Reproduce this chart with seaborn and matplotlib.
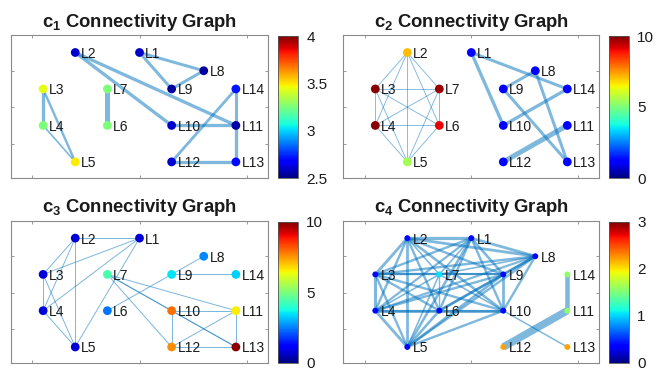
import numpy as np
import pandas as pd
import matplotlib
matplotlib.use("Agg")
import matplotlib.pyplot as plt
import seaborn as sns
from matplotlib.colors import Normalize
from matplotlib.cm import ScalarMappable

# ---- node layout (shared by all four graphs) ----
nodes = ["L1", "L2", "L3", "L4", "L5", "L6", "L7",
         "L8", "L9", "L10", "L11", "L12", "L13", "L14"]
node_x = [0.0, -0.6, -0.9, -0.9, -0.6, -0.3, -0.3,
          0.6, 0.3, 0.3, 0.9, 0.3, 0.9, 0.9]
node_y = [4, 4, 3, 2, 1, 2, 3, 3.5, 3, 2, 2, 1, 1, 3]

# ---- node values per component ----
c1_values = [2.59, 2.60, 3.44, 3.25, 3.49, 3.25, 3.25,
             2.54, 2.54, 2.60, 2.55, 2.61, 2.70, 2.72]
c2_values = [1.25, 7.1, 9.9, 9.9, 5.5, 9.1, 9.75,
             1.25, 1.25, 1.25, 1.25, 1.25, 1.25, 1.25]
c3_values = [0.75, 0.75, 0.75, 0.75, 0.75, 2.4, 4.4,
             2.6, 3.5, 7.9, 6.6, 7.6, 9.9, 3.3]
c4_values = [0.39, 0.39, 0.39, 0.39, 0.39, 0.39, 1.05,
             0.39, 0.39, 0.39, 1.58, 2.21, 2.21, 1.58]

c1_ticks = [2.5, 3, 3.5, 4]
c2_ticks = [0, 5, 10]
c3_ticks = [0, 5, 10]
c4_ticks = [0, 1, 2, 3]

# ---- weighted edges per component ----
c1_edges = [("L2", "L10", 3.3), ("L2", "L11", 3.3), ("L1", "L8", 3.0),
            ("L1", "L9", 3.0), ("L9", "L8", 3.0), ("L3", "L4", 3.3),
            ("L3", "L5", 2.4), ("L4", "L5", 1.7), ("L7", "L6", 5.0),
            ("L10", "L11", 3.3), ("L14", "L11", 3.0), ("L14", "L12", 2.8),
            ("L11", "L13", 3.3), ("L12", "L13", 3.3)]

c2_edges = [("L2", "L3", 0.9), ("L2", "L4", 0.9), ("L2", "L5", 0.9),
            ("L2", "L6", 0.9), ("L2", "L7", 0.9), ("L3", "L4", 0.9),
            ("L3", "L5", 0.9), ("L3", "L6", 0.9), ("L3", "L7", 0.9),
            ("L4", "L5", 0.9), ("L4", "L6", 0.9), ("L4", "L7", 0.9),
            ("L5", "L6", 0.9), ("L5", "L7", 0.9), ("L6", "L7", 0.9),
            ("L1", "L10", 3.3), ("L1", "L14", 3.0), ("L9", "L8", 3.0),
            ("L8", "L13", 3.0), ("L9", "L13", 3.0), ("L10", "L14", 3.3),
            ("L12", "L11", 5.0)]

c3_edges = [("L2", "L1", 1.0), ("L2", "L3", 1.0), ("L2", "L4", 1.0),
            ("L2", "L5", 1.0), ("L1", "L3", 1.0), ("L1", "L4", 1.0),
            ("L1", "L5", 1.0), ("L3", "L4", 1.0), ("L3", "L5", 1.0),
            ("L4", "L5", 1.0), ("L7", "L10", 1.0), ("L7", "L11", 1.0),
            ("L7", "L12", 1.0), ("L7", "L13", 1.0), ("L6", "L9", 1.0),
            ("L9", "L8", 1.0), ("L9", "L14", 1.0), ("L10", "L11", 1.0),
            ("L10", "L12", 1.0), ("L10", "L13", 1.0), ("L11", "L12", 1.0),
            ("L11", "L13", 1.0), ("L12", "L13", 1.0)]

c4_edges = [
    ("L1", "L2", 3.2), ("L1", "L3", 2.4), ("L1", "L4", 2.2), ("L1", "L5", 2.6),
    ("L1", "L6", 2.4), ("L1", "L7", 1.6), ("L1", "L8", 2.8), ("L1", "L9", 2.6),
    ("L1", "L10", 2.4), ("L2", "L3", 2.8), ("L2", "L4", 2.4), ("L2", "L5", 2.8),
    ("L2", "L6", 2.4), ("L2", "L7", 1.6), ("L2", "L8", 2.8), ("L2", "L9", 2.4),
    ("L2", "L10", 2.6), ("L3", "L4", 3.0), ("L3", "L5", 2.4), ("L3", "L6", 2.4),
    ("L3", "L7", 2.2), ("L3", "L8", 2.4), ("L3", "L9", 2.2), ("L3", "L10", 2.4),
    ("L4", "L5", 2.8), ("L4", "L6", 3.0), ("L4", "L7", 1.6), ("L4", "L8", 2.2),
    ("L4", "L9", 2.4), ("L4", "L10", 2.2), ("L5", "L6", 2.6), ("L5", "L7", 1.6),
    ("L5", "L8", 2.4), ("L5", "L9", 2.6), ("L5", "L10", 2.4), ("L6", "L7", 1.4),
    ("L6", "L8", 2.6), ("L6", "L9", 2.4), ("L6", "L10", 3.0), ("L7", "L8", 1.6),
    ("L7", "L9", 2.0), ("L7", "L10", 1.6), ("L8", "L9", 2.4), ("L8", "L10", 2.4),
    ("L9", "L10", 2.8), ("L10", "L13", 1.5), ("L11", "L14", 4.5),
    ("L11", "L12", 7.5)]

panels = [
    ("1", c1_values, c1_edges, c1_ticks, 40),
    ("2", c2_values, c2_edges, c2_ticks, 40),
    ("3", c3_values, c3_edges, c3_ticks, 40),
    ("4", c4_values, c4_edges, c4_ticks, 18),
]

sns.set_theme(style="white")
plt.rcParams["font.family"] = ["Liberation Sans", "DejaVu Sans"]
plt.rcParams["mathtext.fontset"] = "custom"
plt.rcParams["mathtext.rm"] = "Liberation Sans"
plt.rcParams["mathtext.bf"] = "Liberation Sans:bold"
plt.rcParams["mathtext.it"] = "Liberation Sans:italic"

W, H = 665, 373
fig = plt.figure(figsize=(W / 100, H / 100), dpi=100)

# axes rectangles in pixels: (left, top, right, bottom)
ax_px = [(11, 35, 268, 178.3), (343.3, 35, 599.3, 178.3),
         (11, 220.7, 268, 363.3), (343.3, 220.7, 599.3, 363.3)]
cb_px = [(278, 36, 298, 178), (609, 36, 629, 178),
         (278, 221.7, 298, 363), (609, 221.7, 629, 363)]


def rect(p):
    l, t, r, b = p
    return [l / W, 1 - b / H, (r - l) / W, (b - t) / H]


edge_color = "#0072BD"
cmap = matplotlib.colormaps["jet"]
pos = {n: (x, y) for n, x, y in zip(nodes, node_x, node_y)}

for (tag, values, edges, ticks, msize), ap, cp in zip(panels, ax_px, cb_px):
    ax = fig.add_axes(rect(ap))
    vmin, vmax = ticks[0], ticks[-1]

    for a, b, w in edges:
        xa, ya = pos[a]
        xb, yb = pos[b]
        ax.plot([xa, xb], [ya, yb], color=edge_color, alpha=0.5,
                lw=w * 0.72, solid_capstyle="butt", zorder=1)

    df = pd.DataFrame({"x": node_x, "y": node_y, "v": values, "name": nodes})
    sns.scatterplot(data=df, x="x", y="y", hue="v", palette=cmap,
                    hue_norm=Normalize(vmin, vmax), s=msize, linewidth=0,
                    legend=False, ax=ax, zorder=3)
    for n, x, y in zip(nodes, node_x, node_y):
        ax.annotate(n, (x, y), xytext=(4.2, 0), textcoords="offset points",
                    ha="left", va="center_baseline", fontsize=10,
                    color="#1a1a1a", zorder=4)

    ax.set_xlim(-1.2, 1.2)
    ax.set_ylim(0.55, 4.48)
    ax.set_xticks([-1, 0, 1])
    ax.set_yticks([1.5, 2.5, 3.5])
    ax.set_xticklabels([])
    ax.set_yticklabels([])
    ax.set_xlabel("")
    ax.set_ylabel("")
    ax.tick_params(direction="in", length=2.5, width=0.6, color="#8a8a8a",
                   top=True, right=True, bottom=True, left=True)
    for sp in ax.spines.values():
        sp.set_color("#8a8a8a")
        sp.set_linewidth(0.8)
    ax.set_title(r"c$_{\mathbf{" + tag + r"}}$ Connectivity Graph",
                 fontsize=13.3, fontweight="bold", pad=6, color="#1a1a1a")

    cax = fig.add_axes(rect(cp))
    sm = ScalarMappable(norm=Normalize(vmin, vmax), cmap=cmap)
    cb = fig.colorbar(sm, cax=cax, ticks=ticks)
    cb.ax.set_yticklabels([f"{t:g}" for t in ticks])
    cb.ax.tick_params(labelsize=11, length=0, pad=6, labelcolor="#1a1a1a")
    cb.outline.set_edgecolor("#555555")
    cb.outline.set_linewidth(0.6)

fig.savefig("out.png", dpi=100)
